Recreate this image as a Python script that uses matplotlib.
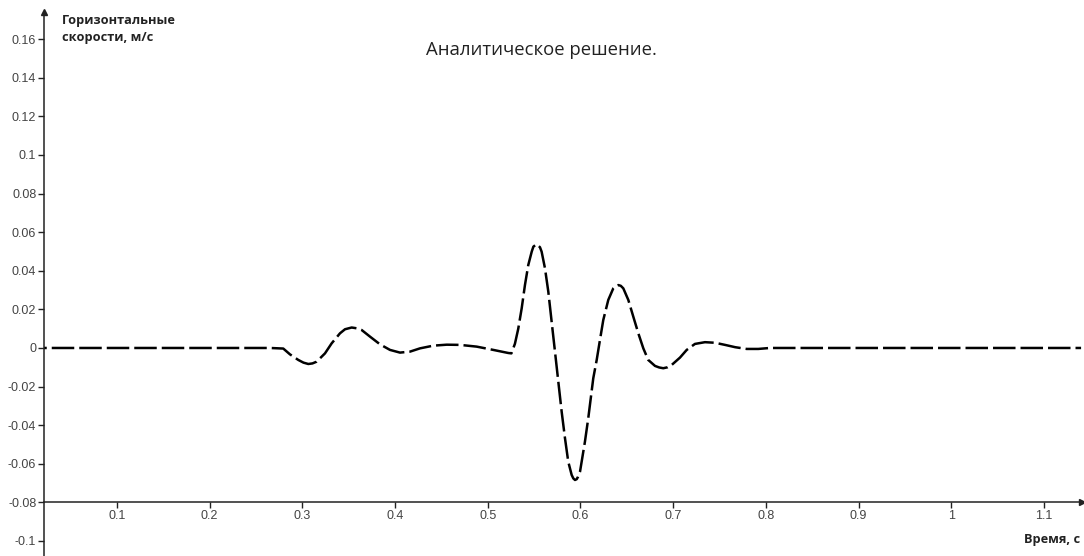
import numpy as np
from matplotlib import pyplot as plt
from matplotlib.ticker import FormatStrFormatter

plt.rcParams["font.family"] = ["Liberation Sans", "DejaVu Sans"]

# время, с
t = [0.0, 0.2650, 0.2794, 0.2866, 0.2956, 0.3012, 0.3064, 0.3109, 0.3154,
     0.3244, 0.3316, 0.3406, 0.3460, 0.3532, 0.3586, 0.3640, 0.3729, 0.3837,
     0.3945, 0.4053, 0.4161, 0.4269, 0.4412, 0.4557, 0.4700, 0.4880, 0.5059,
     0.5221, 0.5255, 0.5293, 0.5329, 0.5366, 0.5401, 0.5437, 0.5474, 0.5492,
     0.5527, 0.5563, 0.5581, 0.5617, 0.5653, 0.5689, 0.5725, 0.5761, 0.5797,
     0.5833, 0.5868, 0.5905, 0.5923, 0.5941, 0.5959, 0.5973, 0.5995, 0.6048,
     0.6084, 0.6138, 0.6175, 0.6210, 0.6246, 0.6300, 0.6354, 0.6381, 0.6408,
     0.6435, 0.6462, 0.6516, 0.6570, 0.6624, 0.6678, 0.6731, 0.6804, 0.6849,
     0.6893, 0.6940, 0.6984, 0.7073, 0.7146, 0.7235, 0.7343, 0.7451, 0.7559,
     0.7669, 0.7793, 0.7918, 0.8044, 1.1400]
# горизонтальная скорость, м/с
v = [0.0, 0.0, -0.0003, -0.0033, -0.0062, -0.0076, -0.0083, -0.0080, -0.0071,
     -0.0028, 0.0024, 0.0076, 0.0097, 0.0106, 0.0102, 0.0093, 0.0059, 0.0019,
     -0.0010, -0.0024, -0.0019, -0.0002, 0.0012, 0.0017, 0.0016, 0.0007, -0.0010,
     -0.0026, -0.0028, 0.0022, 0.0100, 0.0206, 0.0326, 0.0430, 0.0499, 0.0525,
     0.0538, 0.0522, 0.0499, 0.0413, 0.0292, 0.0136, -0.0019, -0.0175, -0.0330,
     -0.0468, -0.0589, -0.0658, -0.0676, -0.0684, -0.0680, -0.0668, -0.0641, -0.0486,
     -0.0364, -0.0157, -0.0062, 0.0041, 0.0145, 0.0249, 0.0309, 0.0321, 0.0326,
     0.0322, 0.0309, 0.0249, 0.0162, 0.0076, -0.0002, -0.0062, -0.0093, -0.0101,
     -0.0105, -0.0100, -0.0088, -0.0050, -0.0010, 0.0021, 0.0030, 0.0027, 0.0016,
     0.0004, -0.0005, -0.0005, 0.0, 0.0]

x_ticks = [0.1, 0.2, 0.3, 0.4, 0.5, 0.6, 0.7, 0.8, 0.9, 1.0, 1.1]
y_ticks = [-0.1, -0.08, -0.06, -0.04, -0.02, 0, 0.02, 0.04, 0.06, 0.08, 0.1,
           0.12, 0.14, 0.16]

fig = plt.figure(figsize=(10.84, 5.56), dpi=100)
ax = fig.add_axes([44/1084, 0, 1038/1084, 544/556])
ax.plot(t, v, color="black", lw=1.8, dashes=(9, 2), solid_capstyle="butt")

ax.set_xlim(0.0213, 1.141)
ax.set_ylim(-0.1078, 0.1741)
ax.set_xticks(x_ticks)
ax.set_yticks(y_ticks)
ax.xaxis.set_major_formatter(FormatStrFormatter("%g"))
ax.yaxis.set_major_formatter(FormatStrFormatter("%g"))

ax.spines["top"].set_visible(False)
ax.spines["right"].set_visible(False)
ax.spines["bottom"].set_position(("data", -0.08))
for s in ("left", "bottom"):
    ax.spines[s].set_color("#222222")
    ax.spines[s].set_linewidth(1.1)
ax.tick_params(axis="both", direction="out", length=4, width=1,
               colors="#222222", labelcolor="#444444", labelsize=9, pad=1.5)

# стрелки на концах осей
ax.plot(1, -0.08, ">", color="#222222", ms=4, transform=ax.get_yaxis_transform(), clip_on=False)
ax.plot(0, 1, "^", color="#222222", ms=4, transform=ax.transAxes, clip_on=False)

fig.text(62/1084, 1 - 14/556, "Горизонтальные\nскорости, м/с", ha="left", va="top",
         fontsize=9.2, fontweight="bold", family=["Open Sans", "DejaVu Sans"],
         color="#222222", linespacing=1.35)
fig.text(1080/1084, 1 - 540/556, "Время, с", ha="right", va="center",
         fontsize=9.2, fontweight="bold", family=["Open Sans", "DejaVu Sans"],
         color="#222222")
fig.text(541/1084, 1 - 50/556, "Аналитическое решение.", ha="center", va="center",
         fontsize=13.3, family=["Open Sans", "DejaVu Sans"], color="#222222")

plt.savefig("out.png", dpi=100)
